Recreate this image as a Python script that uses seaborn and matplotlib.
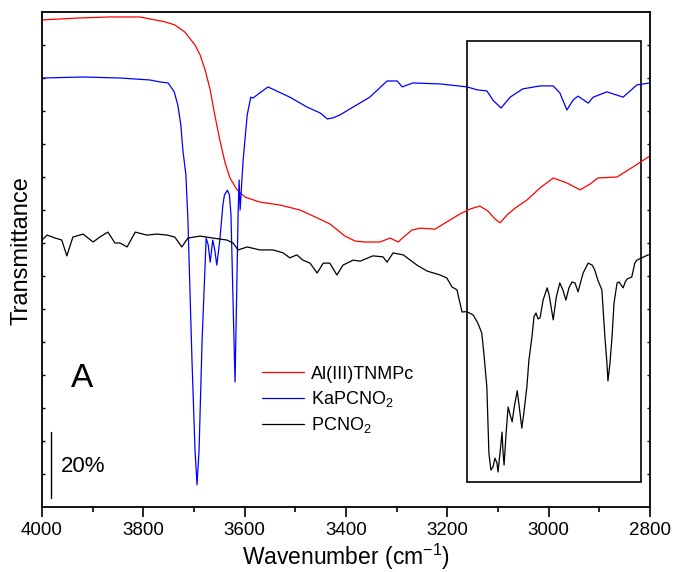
import numpy as np
import pandas as pd
import matplotlib
matplotlib.use("Agg")
import matplotlib.pyplot as plt
import matplotlib.patches as mpatches
import seaborn as sns

# ---------------- data (wavenumber cm^-1, transmittance in units of 10 %) -------------
red_wn = [4000, 3925, 3866, 3807, 3757, 3738, 3718, 3698, 3688, 3678, 3668, 3659, 3649,
          3639, 3629, 3615, 3599, 3570, 3530, 3491, 3461, 3432, 3402, 3382, 3363, 3333,
          3313, 3297, 3284, 3270, 3254, 3224, 3201, 3175, 3155, 3136, 3120, 3106, 3096,
          3082, 3066, 3043, 3017, 2991, 2964, 2938, 2918, 2903, 2865, 2834, 2800]
red_t = [14.76, 14.82, 14.85, 14.85, 14.70, 14.61, 14.39, 14.0, 13.70, 13.24, 12.64, 11.88,
         11.12, 10.45, 9.97, 9.61, 9.39, 9.24, 9.15, 9.0, 8.79, 8.58, 8.21, 8.06, 8.03, 8.03,
         8.15, 8.03, 8.21, 8.39, 8.45, 8.42, 8.64, 8.88, 9.03, 9.12, 8.97, 8.73, 8.61, 8.85,
         9.06, 9.30, 9.67, 9.97, 9.82, 9.61, 9.79, 9.97, 10.0, 10.30, 10.64]

blue_wn = [4000, 3919, 3846, 3787, 3767, 3751, 3739, 3732, 3726, 3722, 3716, 3712, 3704,
           3698, 3694, 3690, 3684, 3676, 3672, 3668, 3663, 3659, 3655, 3649, 3643, 3640,
           3634, 3630, 3627, 3623, 3619, 3616, 3613, 3611, 3609, 3603, 3595, 3588, 3584,
           3554, 3511, 3477, 3451, 3437, 3426, 3412, 3386, 3353, 3319, 3299, 3289, 3268,
           3214, 3161, 3141, 3122, 3110, 3094, 3076, 3051, 3017, 2991, 2978, 2964, 2952,
           2942, 2922, 2912, 2885, 2853, 2826, 2800]
blue_t = [13.0, 13.03, 13.0, 12.94, 12.88, 12.85, 12.58, 12.18, 11.58, 10.82, 10.06, 8.70,
          4.45, 1.73, 0.67, 1.73, 5.06, 8.15, 7.94, 7.42, 8.09, 7.79, 7.33, 8.09, 9.15, 9.45,
          9.6, 9.45, 8.85, 6.27, 3.79, 6.27, 8.85, 9.91, 9.0, 10.52, 11.88, 12.42, 12.39,
          12.73, 12.42, 12.12, 11.94, 11.76, 11.79, 11.88, 12.12, 12.42, 12.91, 12.91, 12.73,
          12.85, 12.82, 12.73, 12.64, 12.61, 12.33, 12.09, 12.42, 12.67, 12.76, 12.76, 12.55,
          12.03, 12.33, 12.45, 12.24, 12.42, 12.58, 12.42, 12.79, 12.85]

black_wn = [4000, 3990, 3974, 3961, 3951, 3939, 3919, 3899, 3886, 3870, 3856, 3846, 3832,
            3816, 3793, 3773, 3753, 3738, 3724, 3712, 3688, 3663, 3635, 3623, 3613, 3595,
            3570, 3544, 3524, 3511, 3497, 3485, 3471, 3457, 3445, 3432, 3418, 3406, 3386,
            3372, 3347, 3327, 3319, 3307, 3287, 3260, 3240, 3214, 3201, 3191, 3181, 3171,
            3162, 3149, 3140, 3132, 3128, 3122, 3118, 3114, 3110, 3106, 3102, 3100, 3096,
            3092, 3090, 3088, 3084, 3080, 3076, 3072, 3068, 3062, 3058, 3053, 3049, 3043,
            3039, 3033, 3029, 3025, 3021, 3017, 3011, 3003, 2999, 2991, 2985, 2978, 2972,
            2966, 2960, 2954, 2948, 2942, 2932, 2922, 2914, 2909, 2903, 2895, 2889, 2885,
            2883, 2879, 2875, 2871, 2865, 2861, 2853, 2849, 2845, 2836, 2830, 2826, 2816,
            2804, 2800]
black_t = [8.09, 8.24, 8.15, 8.09, 7.61, 8.18, 8.27, 8.03, 8.18, 8.33, 8.0, 8.0, 7.88,
           8.33, 8.24, 8.27, 8.24, 8.18, 7.88, 8.15, 8.21, 8.15, 8.09, 8.0, 7.79, 7.88,
           7.79, 7.79, 7.70, 7.55, 7.64, 7.48, 7.39, 7.09, 7.39, 7.39, 7.03, 7.33, 7.48,
           7.45, 7.61, 7.58, 7.42, 7.70, 7.64, 7.33, 7.15, 7.03, 6.94, 6.67, 6.58, 5.91,
           5.92, 5.82, 5.58, 5.27, 4.67, 3.64, 1.64, 1.12, 1.21, 1.48, 1.33, 1.06, 1.64,
           2.27, 1.64, 1.27, 2.24, 3.03, 2.79, 2.58, 3.03, 3.52, 3.03, 2.39, 2.85, 3.64,
           4.45, 5.15, 5.76, 5.88, 5.70, 5.73, 6.27, 6.64, 6.42, 5.67, 6.36, 6.79, 6.58,
           6.27, 6.64, 6.82, 6.79, 6.52, 7.09, 7.39, 7.33, 7.18, 6.88, 6.58, 5.15, 4.36,
           3.82, 4.36, 5.15, 6.18, 6.79, 6.82, 6.64, 6.82, 6.91, 6.97, 7.39, 7.48, 7.55,
           7.64, 7.64]

series_names = ["Al(III)TNMPc", "KaPCNO$_2$", "PCNO$_2$"]
series_colors = ["#ff0000", "#0000ff", "#000000"]
x_ticks = [4000, 3800, 3600, 3400, 3200, 3000, 2800]

# ---------------- build long table ----------------
frames = []
for name, wn, t in zip(series_names, [red_wn, blue_wn, black_wn], [red_t, blue_t, black_t]):
    frames.append(pd.DataFrame({"wn": wn, "t": t, "sample": name}))
df = pd.concat(frames, ignore_index=True)

sns.set_style("ticks")
plt.rcParams["font.family"] = ["Liberation Sans", "DejaVu Sans"]
plt.rcParams["mathtext.fontset"] = "custom"
plt.rcParams["mathtext.rm"] = "Liberation Sans"
plt.rcParams["mathtext.it"] = "Liberation Sans"
for key in ["text.color", "axes.labelcolor", "xtick.color", "ytick.color", "axes.edgecolor"]:
    plt.rcParams[key] = "black"

fig = plt.figure(figsize=(6.74, 5.72), dpi=100)
ax = fig.add_axes([42 / 674, 65 / 572, 608 / 674, 495 / 572])

sns.lineplot(data=df, x="wn", y="t", hue="sample", hue_order=series_names,
             palette=dict(zip(series_names, series_colors)), estimator=None,
             sort=False, linewidth=0.9, ax=ax)
for ln in ax.get_lines():
    ln.set_solid_joinstyle("round")

ax.set_xlim(4000, 2800)
ax.set_ylim(0, 15)
ax.set_xticks(x_ticks)
ax.set_xticks(np.arange(2800, 4001, 100), minor=True)
ax.set_yticks(np.arange(1, 15, 1))
ax.set_yticklabels([])
ax.tick_params(axis="x", which="major", direction="out", length=7, width=1.2,
               labelsize=13.5, pad=4, top=False)
ax.tick_params(axis="x", which="minor", direction="out", length=3.6, width=1.2, top=False)
ax.tick_params(axis="y", which="major", direction="in", length=2.5, width=1,
               left=True, right=True)
for sp in ax.spines.values():
    sp.set_linewidth(1.3)
    sp.set_visible(True)

ax.set_xlabel("Wavenumber (cm$^{-1}$)", fontsize=16.5, labelpad=2)
ax.set_ylabel("Transmittance", fontsize=17)
ax.yaxis.set_label_coords(-0.015, 0.519)

# highlighted region box
ax.add_patch(mpatches.Rectangle((2818, 0.76), 343, 13.36, fill=False,
                                edgecolor="black", linewidth=1.2))

# panel label and scale bar
ax.text(3920, 3.64, "A", fontsize=24, ha="center", va="baseline")
ax.plot([3982, 3982], [0.27, 2.27], color="black", linewidth=1.0)
ax.text(3963, 1.06, "20%", fontsize=16, ha="left", va="baseline")

handles, labels = ax.get_legend_handles_labels()
ax.legend(handles, labels, loc="upper left", bbox_to_anchor=(0.35, 0.30),
          frameon=False, fontsize=13, handlelength=2.3, handletextpad=0.4,
          labelspacing=0.35, borderaxespad=0)

fig.savefig("out.png", dpi=100)
